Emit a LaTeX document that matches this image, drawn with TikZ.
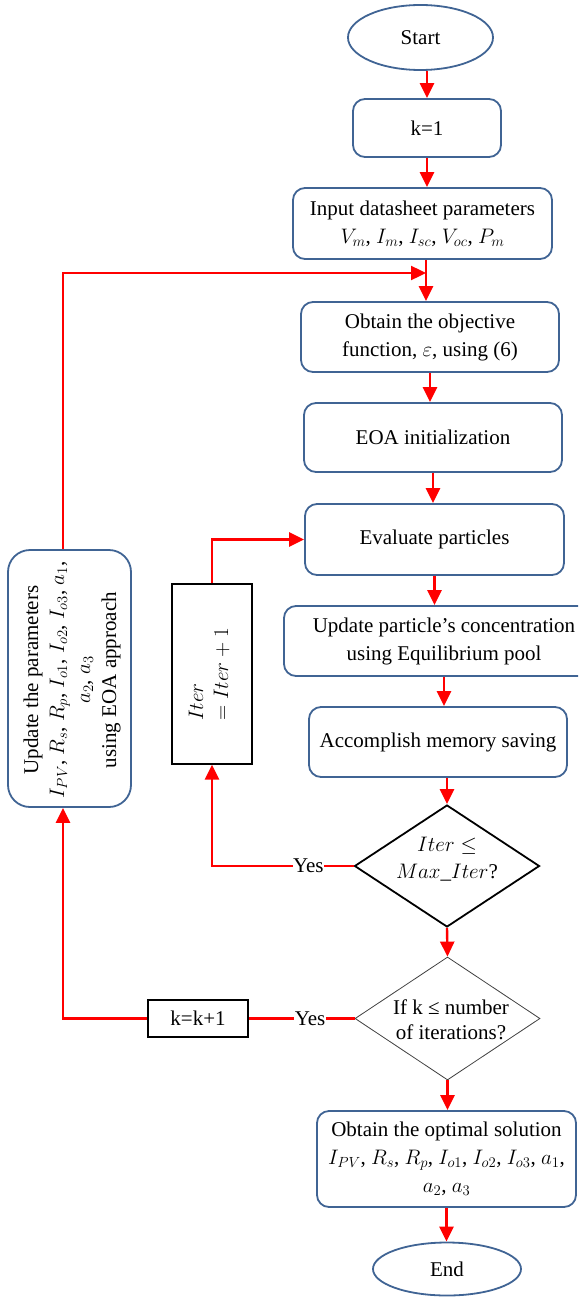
\documentclass[tikz,border=0pt]{standalone}
\usepackage{fix-cm}
\usepackage{fontspec}
\setmainfont{Liberation Serif}
\usetikzlibrary{arrows.meta,shapes.geometric}
\definecolor{boxblue}{RGB}{64,100,148}
\definecolor{flowred}{RGB}{255,0,0}

\begin{document}
\begin{tikzpicture}[x=1pt,y=-1pt,
  every node/.style={font=\fontsize{21}{28}\selectfont},
  proc/.style={rectangle, draw=boxblue, line width=1.8pt, rounded corners=12pt,
               align=center, inner sep=0pt},
  term/.style={ellipse, draw=boxblue, line width=1.8pt, inner sep=0pt},
  plainbox/.style={rectangle, draw=black, line width=1.3pt, inner sep=0pt, fill=white},
  flowline/.style={draw=flowred, line width=2.4pt},
  flow/.style={flowline, -{Triangle[length=15pt,width=14pt]}},
  yes/.style={fill=white, inner sep=0.5pt}]

\path[use as bounding box, clip] (0,0) rectangle (578,1297);

% main column
\node[term, minimum width=145pt, minimum height=65pt] (start) at (420.5,37.5) {Start};
\node[proc, minimum width=148pt, minimum height=58pt] (k1) at (427,128) {k=1};
\node[proc, minimum width=259pt, minimum height=71pt] (input) at (422.5,223.5)
  {Input datasheet parameters\\ $V_m$, $I_m$, $I_{sc}$, $V_{oc}$, $P_m$};
\coordinate (fb) at (426,273);
\node[proc, minimum width=258pt, minimum height=70pt] (obj) at (430,337)
  {Obtain the objective\\ function, $\varepsilon$, using (6)};
\node[proc, minimum width=258pt, minimum height=69pt] (eoa) at (433,437.5) {EOA initialization};
\node[proc, minimum width=259pt, minimum height=71pt] (eval) at (434.5,539.5) {Evaluate particles};
\node[proc, minimum width=320pt, minimum height=70pt] (upd) at (444,641)
  {Update particle’s concentration\\ using Equilibrium pool};
\node[proc, minimum width=258pt, minimum height=70pt] (mem) at (438,742) {Accomplish memory saving};

% decisions
\node[diamond, draw=black, line width=1.8pt, minimum width=185pt, minimum height=122pt,
      inner sep=0pt] (d1) at (447,866) {};
\node[align=center, font=\fontsize{21}{27}\selectfont] (d1t) at (447,859)
  {$Iter \le$\\ $Max\_Iter$?};
\node[diamond, draw=black!75, line width=0.8pt, minimum width=185pt, minimum height=123pt,
      inner sep=0pt] (d2) at (447.5,1018.5) {};
\node[align=center, font=\fontsize{21}{25}\selectfont] (d2t) at (451,1020)
  {If k ≤ number\\ of iterations?};

\node[proc, minimum width=259pt, minimum height=96pt] (opt) at (446.5,1159)
  {Obtain the optimal solution\\ $I_{PV}$, $R_s$, $R_p$, $I_{o1}$, $I_{o2}$, $I_{o3}$, $a_1$,\\ $a_2$, $a_3$};
\node[term, minimum width=148pt, minimum height=53pt] (end) at (447,1269) {End};

% loop boxes
\node[plainbox, minimum width=80pt, minimum height=180pt] (iter) at (212,674) {};
\node[rotate=90, align=left, font=\fontsize{21}{25}\selectfont] (itert) at (209,674.5)
  {$Iter$\\ $= Iter + 1$};
\node[plainbox, minimum width=100pt, minimum height=37pt] (kk) at (198,1018.5) {k=k+1};
\node[proc, rounded corners=22pt, minimum width=123pt, minimum height=257pt] (upbox) at (69.5,678.5) {};
\node[rotate=90, align=center, font=\fontsize{21}{26}\selectfont] (upt) at (72,680)
  {Update the parameters\\ $I_{PV}$, $R_s$, $R_p$, $I_{o1}$, $I_{o2}$, $I_{o3}$, $a_1$,\\ $a_2$, $a_3$\\ using EOA approach};

% main flow
\draw[flow] (k1.north |- start.south) -- (k1.north);
\draw[flow] (k1.south) -- (k1.south |- input.north);
\draw[flow] (input.south -| fb) -- (obj.north -| fb);
\draw[flow] (obj.south) -- (obj.south |- eoa.north);
\draw[flow] (eoa.south) -- (eoa.south |- eval.north);
\draw[flow] (eval.south) -- (eval.south |- upd.north);
\draw[flow] (upd.south) -- (upd.south |- mem.north);
\draw[flow] (mem.south -| d1.north) -- (d1.north);
\draw[flow] (d1.south) -- (d2.north);
\draw[flow] (d2.south) -- (d2.south |- opt.north);
\draw[flow] (opt.south) -- (opt.south |- end.north);

% inner loop
\draw[flow] (d1.west) -| node[yes, pos=0.16] (yes1) {Yes} (iter.south);
\draw[flow] (iter.north) |- (eval.west);

% outer loop
\draw[flowline] (d2.west) -- node[yes, pos=0.42] (yes2) {Yes} (kk.east);
\draw[flow] (kk.west) -| ([xshift=-6.5pt]upbox.south);
\draw[flow] ([xshift=-6.5pt]upbox.north) |- (fb);

\end{tikzpicture}
\end{document}
